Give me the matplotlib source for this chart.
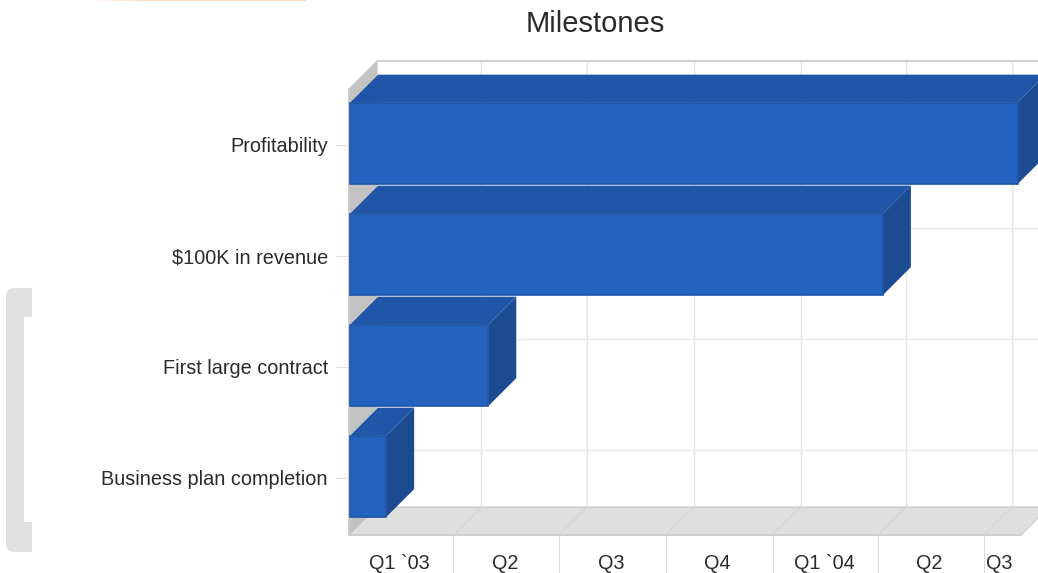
import matplotlib
matplotlib.use("Agg")
import matplotlib.pyplot as plt
from matplotlib.patches import Polygon, Rectangle, FancyBboxPatch
from matplotlib.transforms import IdentityTransform

plt.rcParams['font.family'] = ['Liberation Sans', 'DejaVu Sans']

# days since 1 Jan 2003
milestones = ["Business plan completion", "First large contract", "$100K in revenue", "Profitability"]
days = [32, 120, 460, 576]
quarter_starts = [0, 90, 181, 273, 365, 456, 547]
quarter_labels = ["Q1 `03", "Q2", "Q3", "Q4", "Q1 `04", "Q2", "Q3"]
x_end = 579

W, H = 1038, 573
fig = plt.figure(figsize=(W / 100, H / 100), dpi=100, facecolor="white")

# front plane of the fake 3d box
left, right, top, bottom = 349, 1021, 89, 535
ax = fig.add_axes([left / W, 1 - bottom / H, (right - left) / W, (bottom - top) / H])
ax.set_xlim(0, x_end)
ax.set_ylim(-0.515, 3.503)
ax.patch.set_alpha(0)
for s in ax.spines.values():
    s.set_visible(False)

# depth of 28 px in data units
dx = 28 * x_end / (right - left)
dy = 28 * 4.018 / (bottom - top)
y0, y1 = ax.get_ylim()


def poly(pts, fc, ec="none", lw=0, z=2):
    ax.add_patch(Polygon(pts, closed=True, facecolor=fc, edgecolor=ec, linewidth=lw, zorder=z, clip_on=False))


def line(xs, ys, c, lw=1.0, z=1.5):
    ax.plot(xs, ys, color=c, lw=lw, zorder=z, clip_on=False, solid_capstyle="butt")


# back wall grid
for q in quarter_starts[1:]:
    line([q + dx, q + dx], [y0 + dy, y1 + dy], "#e4e4e4")
for i in range(len(milestones)):
    line([dx, x_end + dx], [i + dy, i + dy], "#e8e8e8")
line([dx, x_end + dx], [y1 + dy, y1 + dy], "#d0d0d0", 1.4)

# floor and left wall
poly([(0, y0), (dx, y0 + dy), (x_end + dx, y0 + dy), (x_end, y0)], "#dfdfdf", "#cfcfcf", 1.0, 1.6)
for q in quarter_starts[1:]:
    line([q, q + dx], [y0, y0 + dy], "#d3d3d3", 0.7, 1.7)
poly([(0, y0), (dx, y0 + dy), (dx, y1 + dy), (0, y1)], "#c2c2c2", "#c8c8c8", 0.8, 1.8)

# bars, back to front
for i in range(len(milestones) - 1, -1, -1):
    v = days[i]
    b0, b1 = i - 0.354, i + 0.38
    poly([(1, b1), (dx + 1, b1 + dy), (v + dx, b1 + dy), (v, b1)], "#2056a8", z=3)
    poly([(v, b0), (v + dx, b0 + dy), (v + dx, b1 + dy), (v, b1)], "#1c4b91", z=3)
    poly([(1, b0), (v, b0), (v, b1), (1, b1)], "#2362bf", "#1f55a5", 1.2, 4)

# axes
ax.set_yticks(range(len(milestones)))
ax.set_yticklabels(milestones)
ax.tick_params(axis="y", length=9.4, width=0.8, color="#dddddd", pad=5.8, labelsize=14.3, labelcolor="#2a2a2a")
ax.set_xticks(quarter_starts[1:])
ax.set_xticklabels([])
ax.tick_params(axis="x", which="major", length=27, width=0.8, color="#dddddd")
ends = quarter_starts[1:] + [576]
ax.set_xticks([(a + b) / 2 - 1.3 for a, b in zip(quarter_starts, ends)], minor=True)
ax.set_xticklabels(quarter_labels, minor=True)
ax.tick_params(axis="x", which="minor", length=0, pad=14, labelsize=14.3, labelcolor="#2a2a2a")
line([0, x_end], [y0, y0], "#cccccc", 1.2, 1.9)
line([0, 0], [y0, y1], "#cccccc", 1.2, 1.9)

fig.text(595 / W, 1 - 24 / H, "Milestones", ha="center", va="center", fontsize=21, color="#2a2a2a")

# page leftovers around the chart (in pixels, y up)
fig.add_artist(FancyBboxPatch((6, H - 552), 40, 264, boxstyle="round,pad=0,rounding_size=9",
                              transform=IdentityTransform(), facecolor="#e0e0e0", edgecolor="none"))
fig.add_artist(Rectangle((24, H - 522), 22, 205, transform=IdentityTransform(), facecolor="white", edgecolor="none"))
fig.add_artist(Rectangle((32, H - 556), 16, 272, transform=IdentityTransform(), facecolor="white", edgecolor="none"))
fig.add_artist(Rectangle((150, H - 1), 157, 1, transform=IdentityTransform(), facecolor="#fdd5b8", edgecolor="none"))
for k in range(10):
    fig.add_artist(Rectangle((90 + 6 * k, H - 1), 6, 1, transform=IdentityTransform(),
                             facecolor="#fdd5b8", alpha=(k + 1) / 11, edgecolor="none"))

fig.savefig("out.png", dpi=100)
